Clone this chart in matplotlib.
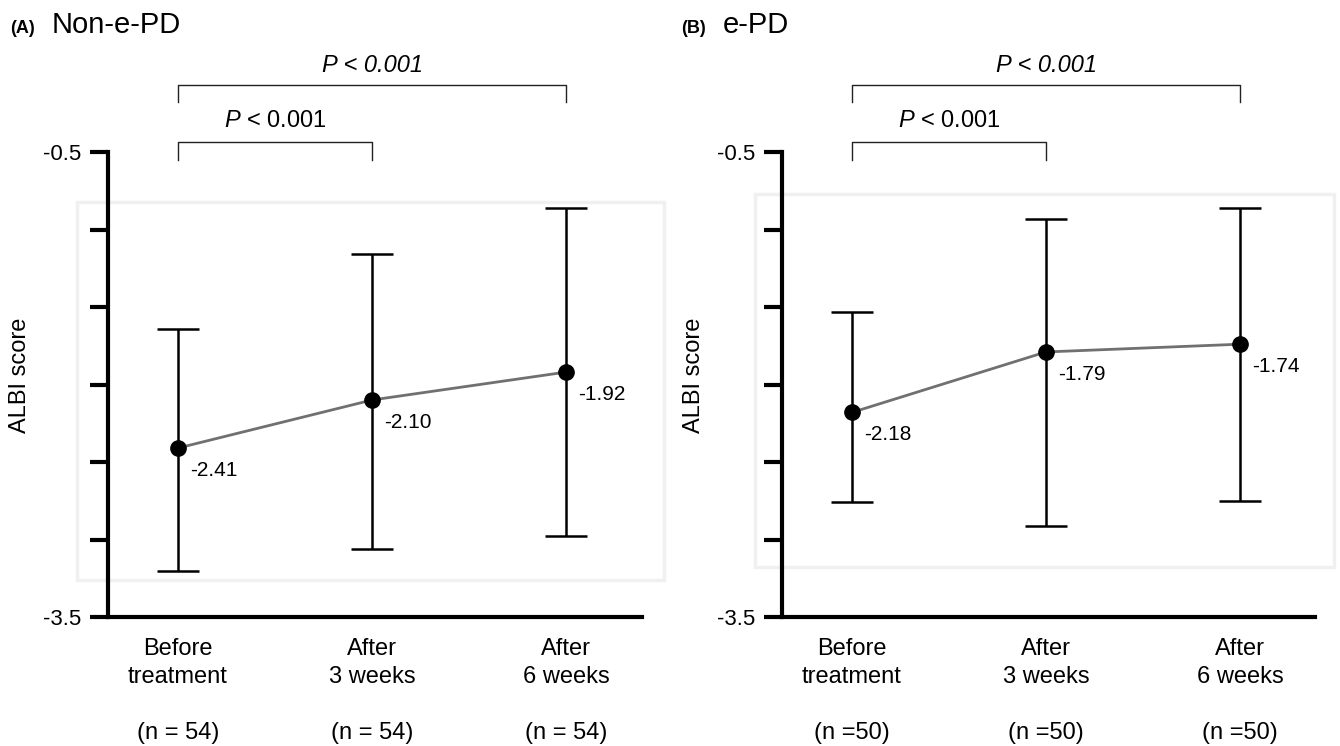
import numpy as np
import matplotlib
matplotlib.use("Agg")
import matplotlib.pyplot as plt
from matplotlib.patches import Rectangle

plt.rcParams['font.family'] = ['Liberation Sans', 'DejaVu Sans']
plt.rcParams['mathtext.fontset'] = 'custom'
plt.rcParams['mathtext.it'] = 'Liberation Sans:italic'
plt.rcParams['mathtext.rm'] = 'Liberation Sans'

# data
groups = ['Before\ntreatment', 'After\n3 weeks', 'After\n6 weeks']

mean_a = [-2.41, -2.10, -1.92]
low_a = [-3.20, -3.06, -2.98]
high_a = [-1.64, -1.16, -0.86]
n_a = ['(n = 54)', '(n = 54)', '(n = 54)']

mean_b = [-2.18, -1.79, -1.74]
low_b = [-2.76, -2.91, -2.75]
high_b = [-1.53, -0.93, -0.86]
n_b = ['(n =50)', '(n =50)', '(n =50)']

W, H = 1340, 746
fig = plt.figure(figsize=(W / 100, H / 100), dpi=100)


def fx(px):
    return px / W


def fy(py):
    return 1 - py / H


# light frames behind the panels
for (x0, y0, x1, y1) in [(77, 202, 664, 580), (755, 194, 1334, 567)]:
    fig.add_artist(Rectangle((fx(x0), fy(y1)), fx(x1 - x0), (y1 - y0) / H,
                             transform=fig.transFigure, fill=False,
                             edgecolor='#f0f0f0', lw=2.5, zorder=-1))


def panel(left_px, right_px, mean, low, high, nlab, tag, title, tag_x, title_x):
    width = right_px - left_px
    ax = fig.add_axes([fx(left_px), fy(617), fx(width), 465 / H])
    ax.set_facecolor('none')
    x = np.array([1, 2, 3])
    mean = np.array(mean)
    yerr = [mean - np.array(low), np.array(high) - mean]
    ax.plot(x, mean, color='#707070', lw=2, zorder=2)
    ax.errorbar(x, mean, yerr=yerr, fmt='o', color='black', ms=11,
                elinewidth=1.8, capsize=15, capthick=1.8, zorder=3)
    for xi, m in zip(x, mean):
        ax.annotate('%.2f' % m, (xi, m), xytext=(9, -16), textcoords='offset points',
                    ha='left', va='center', fontsize=15)

    # category centres sit ~70 px right of the spine, 194 px apart
    ax.set_xlim(1 - 70 / 194, 3 + (width - 70 - 388) / 194)
    ax.set_ylim(-3.5, -0.5)
    ax.set_yticks(np.arange(-3.5, -0.49, 0.5))
    ax.set_yticklabels(['-3.5', '', '', '', '', '', '-0.5'])
    ax.tick_params(axis='y', length=13, width=3, labelsize=16, pad=6)
    ax.set_xticks(x)
    ax.set_xticklabels([g + '\n\n' + n for g, n in zip(groups, nlab)],
                       fontsize=17, linespacing=1.35)
    ax.tick_params(axis='x', length=0, pad=15)
    for s in ['top', 'right']:
        ax.spines[s].set_visible(False)
    for s in ['left', 'bottom']:
        ax.spines[s].set_linewidth(3)
    ax.set_ylabel('ALBI score', fontsize=17)
    ax.yaxis.set_label_coords(-77 / width, 0.52)

    # significance brackets
    ax.plot([1, 1, 3, 3], [-0.177, -0.068, -0.068, -0.177], color='#222222', lw=1, clip_on=False)
    ax.text(2, 0.06, 'P < 0.001', style='italic', ha='center', va='center', fontsize=17)
    ax.plot([1, 1, 2, 2], [-0.552, -0.435, -0.435, -0.552], color='#222222', lw=1, clip_on=False)
    ax.text(1.5, -0.30, r'$\mathit{P}$ < 0.001', ha='center', va='center', fontsize=17)

    fig.text(fx(tag_x), fy(33), tag, fontsize=13, fontweight='bold', va='baseline')
    fig.text(fx(title_x), fy(33), title, fontsize=21, va='baseline')
    return ax


panel(108, 642, mean_a, low_a, high_a, n_a, '(A)', 'Non-e-PD', 10, 52)
panel(782, 1315, mean_b, low_b, high_b, n_b, '(B)', 'e-PD', 681, 723)

fig.savefig('out.png', dpi=100)
